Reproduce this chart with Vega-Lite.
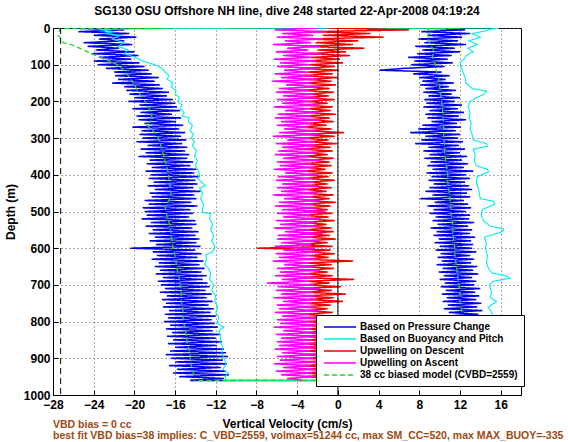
{
"$schema":"https://vega.github.io/schema/vega-lite/v6.json",
"autosize":{"type":"pad"},
"padding":{"left":3,"top":4,"right":0,"bottom":4},
"background":"#ffffff",
"datasets":{"lines":[
{"s":"P","b":"d","d":0,"v":-26.5},{"s":"P","b":"d","d":5,"v":-21.0},{"s":"P","b":"d","d":10,"v":-25.5},{"s":"P","b":"d","d":15,"v":-20.5},{"s":"P","b":"d","d":20,"v":-24.0},{"s":"P","b":"d","d":25,"v":-19.8},{"s":"P","b":"d","d":30,"v":-23.5},{"s":"P","b":"d","d":35,"v":-21.0},{"s":"P","b":"d","d":40,"v":-25.0},{"s":"P","b":"d","d":45,"v":-20.2},
{"s":"P","b":"d","d":50,"v":-24.6},{"s":"P","b":"d","d":55,"v":-21.5},{"s":"P","b":"d","d":60,"v":-23.8},{"s":"P","b":"d","d":65,"v":-20.0},{"s":"P","b":"d","d":70,"v":-24.2},{"s":"P","b":"d","d":75,"v":-19.6},{"s":"P","b":"d","d":80,"v":-23.5},{"s":"P","b":"d","d":85,"v":-20.3},{"s":"P","b":"d","d":90,"v":-24.0},{"s":"P","b":"d","d":95,"v":-19.5},
{"s":"P","b":"d","d":100,"v":-23.6},{"s":"P","b":"d","d":105,"v":-19.0},{"s":"P","b":"d","d":110,"v":-22.8},{"s":"P","b":"d","d":115,"v":-18.6},{"s":"P","b":"d","d":120,"v":-22.0},{"s":"P","b":"d","d":125,"v":-18.3},{"s":"P","b":"d","d":130,"v":-21.9},{"s":"P","b":"d","d":135,"v":-17.6},{"s":"P","b":"d","d":140,"v":-21.6},{"s":"P","b":"d","d":145,"v":-18.0},
{"s":"P","b":"d","d":150,"v":-22.2},{"s":"P","b":"d","d":155,"v":-17.5},{"s":"P","b":"d","d":160,"v":-21.0},{"s":"P","b":"d","d":165,"v":-17.2},{"s":"P","b":"d","d":170,"v":-20.8},{"s":"P","b":"d","d":175,"v":-16.6},{"s":"P","b":"d","d":180,"v":-20.5},{"s":"P","b":"d","d":185,"v":-16.8},{"s":"P","b":"d","d":190,"v":-20.0},{"s":"P","b":"d","d":195,"v":-16.2},
{"s":"P","b":"d","d":200,"v":-20.6},{"s":"P","b":"d","d":205,"v":-16.0},{"s":"P","b":"d","d":210,"v":-19.5},{"s":"P","b":"d","d":215,"v":-15.8},{"s":"P","b":"d","d":220,"v":-20.2},{"s":"P","b":"d","d":225,"v":-15.5},{"s":"P","b":"d","d":230,"v":-19.4},{"s":"P","b":"d","d":235,"v":-16.3},{"s":"P","b":"d","d":240,"v":-19.8},{"s":"P","b":"d","d":245,"v":-15.4},
{"s":"P","b":"d","d":250,"v":-19.6},{"s":"P","b":"d","d":255,"v":-15.9},{"s":"P","b":"d","d":260,"v":-19.0},{"s":"P","b":"d","d":265,"v":-15.2},{"s":"P","b":"d","d":270,"v":-20.2},{"s":"P","b":"d","d":275,"v":-15.6},{"s":"P","b":"d","d":280,"v":-19.3},{"s":"P","b":"d","d":285,"v":-15.0},{"s":"P","b":"d","d":290,"v":-19.5},{"s":"P","b":"d","d":295,"v":-15.4},
{"s":"P","b":"d","d":300,"v":-19.2},{"s":"P","b":"d","d":305,"v":-14.9},{"s":"P","b":"d","d":310,"v":-19.8},{"s":"P","b":"d","d":315,"v":-15.3},{"s":"P","b":"d","d":320,"v":-18.7},{"s":"P","b":"d","d":325,"v":-14.8},{"s":"P","b":"d","d":330,"v":-19.4},{"s":"P","b":"d","d":335,"v":-15.0},{"s":"P","b":"d","d":340,"v":-18.9},{"s":"P","b":"d","d":345,"v":-14.6},
{"s":"P","b":"d","d":350,"v":-19.6},{"s":"P","b":"d","d":355,"v":-14.8},{"s":"P","b":"d","d":360,"v":-18.5},{"s":"P","b":"d","d":365,"v":-14.2},{"s":"P","b":"d","d":370,"v":-18.8},{"s":"P","b":"d","d":375,"v":-14.5},{"s":"P","b":"d","d":380,"v":-18.3},{"s":"P","b":"d","d":385,"v":-13.9},{"s":"P","b":"d","d":390,"v":-18.9},{"s":"P","b":"d","d":395,"v":-14.1},
{"s":"P","b":"d","d":400,"v":-18.4},{"s":"P","b":"d","d":405,"v":-13.6},{"s":"P","b":"d","d":410,"v":-18.6},{"s":"P","b":"d","d":415,"v":-14.0},{"s":"P","b":"d","d":420,"v":-18.1},{"s":"P","b":"d","d":425,"v":-13.8},{"s":"P","b":"d","d":430,"v":-18.7},{"s":"P","b":"d","d":435,"v":-14.2},{"s":"P","b":"d","d":440,"v":-18.0},{"s":"P","b":"d","d":445,"v":-13.5},
{"s":"P","b":"d","d":450,"v":-18.5},{"s":"P","b":"d","d":455,"v":-14.1},{"s":"P","b":"d","d":460,"v":-18.3},{"s":"P","b":"d","d":465,"v":-13.9},{"s":"P","b":"d","d":470,"v":-19.0},{"s":"P","b":"d","d":475,"v":-14.4},{"s":"P","b":"d","d":480,"v":-18.6},{"s":"P","b":"d","d":485,"v":-13.8},{"s":"P","b":"d","d":490,"v":-19.2},{"s":"P","b":"d","d":495,"v":-14.5},
{"s":"P","b":"d","d":500,"v":-19.0},{"s":"P","b":"d","d":505,"v":-14.2},{"s":"P","b":"d","d":510,"v":-18.8},{"s":"P","b":"d","d":515,"v":-14.6},{"s":"P","b":"d","d":520,"v":-19.3},{"s":"P","b":"d","d":525,"v":-14.0},{"s":"P","b":"d","d":530,"v":-18.4},{"s":"P","b":"d","d":535,"v":-13.9},{"s":"P","b":"d","d":540,"v":-18.9},{"s":"P","b":"d","d":545,"v":-14.3},
{"s":"P","b":"d","d":550,"v":-18.2},{"s":"P","b":"d","d":555,"v":-13.7},{"s":"P","b":"d","d":560,"v":-18.6},{"s":"P","b":"d","d":565,"v":-14.0},{"s":"P","b":"d","d":570,"v":-18.0},{"s":"P","b":"d","d":575,"v":-13.6},{"s":"P","b":"d","d":580,"v":-18.5},{"s":"P","b":"d","d":585,"v":-13.9},{"s":"P","b":"d","d":590,"v":-17.9},{"s":"P","b":"d","d":595,"v":-13.5},
{"s":"P","b":"d","d":600,"v":-20.4},{"s":"P","b":"d","d":605,"v":-14.0},{"s":"P","b":"d","d":610,"v":-18.2},{"s":"P","b":"d","d":615,"v":-13.4},{"s":"P","b":"d","d":620,"v":-17.8},{"s":"P","b":"d","d":625,"v":-13.8},{"s":"P","b":"d","d":630,"v":-18.3},{"s":"P","b":"d","d":635,"v":-13.2},{"s":"P","b":"d","d":640,"v":-17.6},{"s":"P","b":"d","d":645,"v":-13.6},
{"s":"P","b":"d","d":650,"v":-18.0},{"s":"P","b":"d","d":655,"v":-13.1},{"s":"P","b":"d","d":660,"v":-17.5},{"s":"P","b":"d","d":665,"v":-13.4},{"s":"P","b":"d","d":670,"v":-17.9},{"s":"P","b":"d","d":675,"v":-12.9},{"s":"P","b":"d","d":680,"v":-17.2},{"s":"P","b":"d","d":685,"v":-13.3},{"s":"P","b":"d","d":690,"v":-17.7},{"s":"P","b":"d","d":695,"v":-12.8},
{"s":"P","b":"d","d":700,"v":-17.4},{"s":"P","b":"d","d":705,"v":-12.6},{"s":"P","b":"d","d":710,"v":-17.0},{"s":"P","b":"d","d":715,"v":-13.0},{"s":"P","b":"d","d":720,"v":-17.5},{"s":"P","b":"d","d":725,"v":-12.4},{"s":"P","b":"d","d":730,"v":-16.8},{"s":"P","b":"d","d":735,"v":-12.9},{"s":"P","b":"d","d":740,"v":-17.3},{"s":"P","b":"d","d":745,"v":-12.3},
{"s":"P","b":"d","d":750,"v":-16.9},{"s":"P","b":"d","d":755,"v":-12.7},{"s":"P","b":"d","d":760,"v":-17.2},{"s":"P","b":"d","d":765,"v":-12.2},{"s":"P","b":"d","d":770,"v":-16.6},{"s":"P","b":"d","d":775,"v":-12.5},{"s":"P","b":"d","d":780,"v":-17.0},{"s":"P","b":"d","d":785,"v":-12.0},{"s":"P","b":"d","d":790,"v":-16.7},{"s":"P","b":"d","d":795,"v":-12.4},
{"s":"P","b":"d","d":800,"v":-17.1},{"s":"P","b":"d","d":805,"v":-12.1},{"s":"P","b":"d","d":810,"v":-16.5},{"s":"P","b":"d","d":815,"v":-11.8},{"s":"P","b":"d","d":820,"v":-16.9},{"s":"P","b":"d","d":825,"v":-12.3},{"s":"P","b":"d","d":830,"v":-16.3},{"s":"P","b":"d","d":835,"v":-11.6},{"s":"P","b":"d","d":840,"v":-16.8},{"s":"P","b":"d","d":845,"v":-12.0},
{"s":"P","b":"d","d":850,"v":-16.2},{"s":"P","b":"d","d":855,"v":-11.4},{"s":"P","b":"d","d":860,"v":-16.7},{"s":"P","b":"d","d":865,"v":-11.9},{"s":"P","b":"d","d":870,"v":-16.0},{"s":"P","b":"d","d":875,"v":-11.2},{"s":"P","b":"d","d":880,"v":-16.5},{"s":"P","b":"d","d":885,"v":-11.0},{"s":"P","b":"d","d":890,"v":-16.9},{"s":"P","b":"d","d":895,"v":-10.8},
{"s":"P","b":"d","d":900,"v":-16.4},{"s":"P","b":"d","d":905,"v":-11.3},{"s":"P","b":"d","d":910,"v":-16.0},{"s":"P","b":"d","d":915,"v":-10.9},{"s":"P","b":"d","d":920,"v":-16.6},{"s":"P","b":"d","d":925,"v":-11.5},{"s":"P","b":"d","d":930,"v":-15.8},{"s":"P","b":"d","d":935,"v":-11.0},{"s":"P","b":"d","d":940,"v":-16.2},{"s":"P","b":"d","d":945,"v":-10.7},
{"s":"P","b":"d","d":950,"v":-15.6},{"s":"P","b":"d","d":955,"v":-11.2},{"s":"P","b":"d","d":960,"v":-14.5},
{"s":"P","b":"u","d":0,"v":9.0},{"s":"P","b":"u","d":5,"v":12.5},{"s":"P","b":"u","d":10,"v":8.2},{"s":"P","b":"u","d":15,"v":13.0},{"s":"P","b":"u","d":20,"v":8.8},{"s":"P","b":"u","d":25,"v":12.2},{"s":"P","b":"u","d":30,"v":7.9},{"s":"P","b":"u","d":35,"v":11.8},{"s":"P","b":"u","d":40,"v":8.5},{"s":"P","b":"u","d":45,"v":12.6},
{"s":"P","b":"u","d":50,"v":7.6},{"s":"P","b":"u","d":55,"v":11.5},{"s":"P","b":"u","d":60,"v":8.3},{"s":"P","b":"u","d":65,"v":12.0},{"s":"P","b":"u","d":70,"v":7.8},{"s":"P","b":"u","d":75,"v":11.2},{"s":"P","b":"u","d":80,"v":6.9},{"s":"P","b":"u","d":85,"v":10.8},{"s":"P","b":"u","d":90,"v":7.5},{"s":"P","b":"u","d":95,"v":11.3},
{"s":"P","b":"u","d":100,"v":7.2},{"s":"P","b":"u","d":105,"v":10.5},{"s":"P","b":"u","d":110,"v":6.5},{"s":"P","b":"u","d":115,"v":4.1},{"s":"P","b":"u","d":120,"v":10.2},{"s":"P","b":"u","d":125,"v":7.4},{"s":"P","b":"u","d":130,"v":11.0},{"s":"P","b":"u","d":135,"v":8.0},{"s":"P","b":"u","d":140,"v":10.6},{"s":"P","b":"u","d":145,"v":8.3},
{"s":"P","b":"u","d":150,"v":11.4},{"s":"P","b":"u","d":155,"v":8.1},{"s":"P","b":"u","d":160,"v":10.9},{"s":"P","b":"u","d":165,"v":8.6},{"s":"P","b":"u","d":170,"v":11.6},{"s":"P","b":"u","d":175,"v":8.4},{"s":"P","b":"u","d":180,"v":11.2},{"s":"P","b":"u","d":185,"v":8.9},{"s":"P","b":"u","d":190,"v":12.0},{"s":"P","b":"u","d":195,"v":8.5},
{"s":"P","b":"u","d":200,"v":11.5},{"s":"P","b":"u","d":205,"v":8.7},{"s":"P","b":"u","d":210,"v":12.2},{"s":"P","b":"u","d":215,"v":8.4},{"s":"P","b":"u","d":220,"v":11.8},{"s":"P","b":"u","d":225,"v":9.0},{"s":"P","b":"u","d":230,"v":12.4},{"s":"P","b":"u","d":235,"v":8.6},{"s":"P","b":"u","d":240,"v":11.9},{"s":"P","b":"u","d":245,"v":8.8},
{"s":"P","b":"u","d":250,"v":12.6},{"s":"P","b":"u","d":255,"v":9.2},{"s":"P","b":"u","d":260,"v":11.7},{"s":"P","b":"u","d":265,"v":8.3},{"s":"P","b":"u","d":270,"v":12.1},{"s":"P","b":"u","d":275,"v":7.9},{"s":"P","b":"u","d":280,"v":11.6},{"s":"P","b":"u","d":285,"v":7.1},{"s":"P","b":"u","d":290,"v":12.0},{"s":"P","b":"u","d":295,"v":8.6},
{"s":"P","b":"u","d":300,"v":11.8},{"s":"P","b":"u","d":305,"v":8.2},{"s":"P","b":"u","d":310,"v":12.3},{"s":"P","b":"u","d":315,"v":7.6},{"s":"P","b":"u","d":320,"v":11.9},{"s":"P","b":"u","d":325,"v":8.9},{"s":"P","b":"u","d":330,"v":12.5},{"s":"P","b":"u","d":335,"v":8.4},{"s":"P","b":"u","d":340,"v":12.0},{"s":"P","b":"u","d":345,"v":9.0},
{"s":"P","b":"u","d":350,"v":12.7},{"s":"P","b":"u","d":355,"v":8.5},{"s":"P","b":"u","d":360,"v":12.2},{"s":"P","b":"u","d":365,"v":9.1},{"s":"P","b":"u","d":370,"v":12.8},{"s":"P","b":"u","d":375,"v":8.8},{"s":"P","b":"u","d":380,"v":12.4},{"s":"P","b":"u","d":385,"v":9.3},{"s":"P","b":"u","d":390,"v":13.3},{"s":"P","b":"u","d":395,"v":8.7},
{"s":"P","b":"u","d":400,"v":12.6},{"s":"P","b":"u","d":405,"v":9.2},{"s":"P","b":"u","d":410,"v":13.0},{"s":"P","b":"u","d":415,"v":8.9},{"s":"P","b":"u","d":420,"v":12.5},{"s":"P","b":"u","d":425,"v":9.4},{"s":"P","b":"u","d":430,"v":12.9},{"s":"P","b":"u","d":435,"v":9.0},{"s":"P","b":"u","d":440,"v":13.2},{"s":"P","b":"u","d":445,"v":8.6},
{"s":"P","b":"u","d":450,"v":12.7},{"s":"P","b":"u","d":455,"v":9.3},{"s":"P","b":"u","d":460,"v":13.0},{"s":"P","b":"u","d":465,"v":8.1},{"s":"P","b":"u","d":470,"v":12.4},{"s":"P","b":"u","d":475,"v":9.5},{"s":"P","b":"u","d":480,"v":12.8},{"s":"P","b":"u","d":485,"v":8.8},{"s":"P","b":"u","d":490,"v":13.1},{"s":"P","b":"u","d":495,"v":9.4},
{"s":"P","b":"u","d":500,"v":12.6},{"s":"P","b":"u","d":505,"v":9.0},{"s":"P","b":"u","d":510,"v":13.0},{"s":"P","b":"u","d":515,"v":9.6},{"s":"P","b":"u","d":520,"v":12.9},{"s":"P","b":"u","d":525,"v":9.3},{"s":"P","b":"u","d":530,"v":13.4},{"s":"P","b":"u","d":535,"v":9.8},{"s":"P","b":"u","d":540,"v":12.8},{"s":"P","b":"u","d":545,"v":9.1},
{"s":"P","b":"u","d":550,"v":13.2},{"s":"P","b":"u","d":555,"v":9.7},{"s":"P","b":"u","d":560,"v":13.0},{"s":"P","b":"u","d":565,"v":9.4},{"s":"P","b":"u","d":570,"v":13.5},{"s":"P","b":"u","d":575,"v":9.9},{"s":"P","b":"u","d":580,"v":13.1},{"s":"P","b":"u","d":585,"v":9.5},{"s":"P","b":"u","d":590,"v":13.3},{"s":"P","b":"u","d":595,"v":10.0},
{"s":"P","b":"u","d":600,"v":13.2},{"s":"P","b":"u","d":605,"v":9.6},{"s":"P","b":"u","d":610,"v":13.6},{"s":"P","b":"u","d":615,"v":10.1},{"s":"P","b":"u","d":620,"v":13.0},{"s":"P","b":"u","d":625,"v":9.8},{"s":"P","b":"u","d":630,"v":13.4},{"s":"P","b":"u","d":635,"v":10.2},{"s":"P","b":"u","d":640,"v":13.1},{"s":"P","b":"u","d":645,"v":9.7},
{"s":"P","b":"u","d":650,"v":13.7},{"s":"P","b":"u","d":655,"v":10.3},{"s":"P","b":"u","d":660,"v":13.3},{"s":"P","b":"u","d":665,"v":9.9},{"s":"P","b":"u","d":670,"v":13.8},{"s":"P","b":"u","d":675,"v":10.4},{"s":"P","b":"u","d":680,"v":13.2},{"s":"P","b":"u","d":685,"v":10.0},{"s":"P","b":"u","d":690,"v":13.6},{"s":"P","b":"u","d":695,"v":10.5},
{"s":"P","b":"u","d":700,"v":13.4},{"s":"P","b":"u","d":705,"v":10.1},{"s":"P","b":"u","d":710,"v":14.0},{"s":"P","b":"u","d":715,"v":10.6},{"s":"P","b":"u","d":720,"v":13.5},{"s":"P","b":"u","d":725,"v":10.2},{"s":"P","b":"u","d":730,"v":13.9},{"s":"P","b":"u","d":735,"v":10.7},{"s":"P","b":"u","d":740,"v":13.6},{"s":"P","b":"u","d":745,"v":10.3},
{"s":"P","b":"u","d":750,"v":14.1},{"s":"P","b":"u","d":755,"v":10.8},{"s":"P","b":"u","d":760,"v":13.7},{"s":"P","b":"u","d":765,"v":10.4},{"s":"P","b":"u","d":770,"v":14.2},{"s":"P","b":"u","d":775,"v":10.9},{"s":"P","b":"u","d":780,"v":13.8},{"s":"P","b":"u","d":785,"v":10.5},{"s":"P","b":"u","d":790,"v":14.0},{"s":"P","b":"u","d":795,"v":11.0},
{"s":"P","b":"u","d":800,"v":13.9},{"s":"P","b":"u","d":805,"v":10.6},{"s":"P","b":"u","d":810,"v":14.3},{"s":"P","b":"u","d":815,"v":10.8},{"s":"P","b":"u","d":820,"v":13.7},{"s":"P","b":"u","d":825,"v":11.1},{"s":"P","b":"u","d":830,"v":14.2},{"s":"P","b":"u","d":835,"v":10.7},{"s":"P","b":"u","d":840,"v":14.4},{"s":"P","b":"u","d":845,"v":11.0},
{"s":"P","b":"u","d":850,"v":13.9},{"s":"P","b":"u","d":855,"v":10.9},{"s":"P","b":"u","d":860,"v":14.5},{"s":"P","b":"u","d":865,"v":11.2},{"s":"P","b":"u","d":870,"v":14.0},{"s":"P","b":"u","d":875,"v":10.8},{"s":"P","b":"u","d":880,"v":14.3},{"s":"P","b":"u","d":885,"v":11.3},{"s":"P","b":"u","d":890,"v":14.1},{"s":"P","b":"u","d":895,"v":11.0},
{"s":"P","b":"u","d":900,"v":14.6},{"s":"P","b":"u","d":905,"v":11.4},{"s":"P","b":"u","d":910,"v":14.2},{"s":"P","b":"u","d":915,"v":11.1},{"s":"P","b":"u","d":920,"v":14.4},{"s":"P","b":"u","d":925,"v":11.5},{"s":"P","b":"u","d":930,"v":14.0},{"s":"P","b":"u","d":935,"v":11.2},{"s":"P","b":"u","d":940,"v":14.5},{"s":"P","b":"u","d":945,"v":11.6},
{"s":"P","b":"u","d":950,"v":14.1},{"s":"P","b":"u","d":955,"v":11.8},{"s":"P","b":"u","d":960,"v":12.5},{"s":"P","b":"u","d":960.5,"v":-14.5},
{"s":"B","b":"d","d":0,"v":15.8},{"s":"B","b":"d","d":1,"v":-14.4},{"s":"B","b":"d","d":4,"v":-23.5},{"s":"B","b":"d","d":10,"v":-22.0},{"s":"B","b":"d","d":15,"v":-23.0},{"s":"B","b":"d","d":20,"v":-21.4},{"s":"B","b":"d","d":30,"v":-22.2},{"s":"B","b":"d","d":40,"v":-21.0},{"s":"B","b":"d","d":50,"v":-21.6},{"s":"B","b":"d","d":60,"v":-20.6},
{"s":"B","b":"d","d":70,"v":-21.0},{"s":"B","b":"d","d":80,"v":-19.9},{"s":"B","b":"d","d":90,"v":-19.2},{"s":"B","b":"d","d":95,"v":-18.6},{"s":"B","b":"d","d":100,"v":-18.0},{"s":"B","b":"d","d":105,"v":-17.6},{"s":"B","b":"d","d":110,"v":-17.3},{"s":"B","b":"d","d":120,"v":-17.0},{"s":"B","b":"d","d":130,"v":-16.6},{"s":"B","b":"d","d":140,"v":-16.8},
{"s":"B","b":"d","d":150,"v":-16.2},{"s":"B","b":"d","d":160,"v":-16.4},{"s":"B","b":"d","d":170,"v":-15.9},{"s":"B","b":"d","d":180,"v":-16.0},{"s":"B","b":"d","d":190,"v":-15.6},{"s":"B","b":"d","d":200,"v":-15.7},{"s":"B","b":"d","d":210,"v":-15.3},{"s":"B","b":"d","d":220,"v":-15.5},{"s":"B","b":"d","d":230,"v":-15.1},{"s":"B","b":"d","d":240,"v":-15.3},
{"s":"B","b":"d","d":245,"v":-14.6},{"s":"B","b":"d","d":255,"v":-14.7},{"s":"B","b":"d","d":265,"v":-14.3},{"s":"B","b":"d","d":280,"v":-14.5},{"s":"B","b":"d","d":290,"v":-14.2},{"s":"B","b":"d","d":300,"v":-14.4},{"s":"B","b":"d","d":310,"v":-14.1},{"s":"B","b":"d","d":320,"v":-14.3},{"s":"B","b":"d","d":335,"v":-13.9},{"s":"B","b":"d","d":350,"v":-14.1},
{"s":"B","b":"d","d":360,"v":-13.8},{"s":"B","b":"d","d":375,"v":-14.0},{"s":"B","b":"d","d":390,"v":-13.7},{"s":"B","b":"d","d":400,"v":-13.6},{"s":"B","b":"d","d":410,"v":-13.8},{"s":"B","b":"d","d":420,"v":-13.4},{"s":"B","b":"d","d":430,"v":-13.0},{"s":"B","b":"d","d":435,"v":-13.6},{"s":"B","b":"d","d":450,"v":-13.3},{"s":"B","b":"d","d":465,"v":-13.5},
{"s":"B","b":"d","d":480,"v":-13.2},{"s":"B","b":"d","d":495,"v":-13.3},{"s":"B","b":"d","d":503,"v":-13.3},{"s":"B","b":"d","d":506,"v":-12.5},{"s":"B","b":"d","d":520,"v":-12.6},{"s":"B","b":"d","d":535,"v":-12.3},{"s":"B","b":"d","d":550,"v":-12.5},{"s":"B","b":"d","d":565,"v":-12.2},{"s":"B","b":"d","d":580,"v":-12.4},{"s":"B","b":"d","d":595,"v":-12.1},
{"s":"B","b":"d","d":610,"v":-12.3},{"s":"B","b":"d","d":618,"v":-13.0},{"s":"B","b":"d","d":630,"v":-12.9},{"s":"B","b":"d","d":645,"v":-13.1},{"s":"B","b":"d","d":655,"v":-12.7},{"s":"B","b":"d","d":670,"v":-12.5},{"s":"B","b":"d","d":685,"v":-12.6},{"s":"B","b":"d","d":700,"v":-12.2},{"s":"B","b":"d","d":715,"v":-12.4},{"s":"B","b":"d","d":730,"v":-12.0},
{"s":"B","b":"d","d":745,"v":-12.1},{"s":"B","b":"d","d":760,"v":-11.8},{"s":"B","b":"d","d":775,"v":-12.0},{"s":"B","b":"d","d":790,"v":-11.7},{"s":"B","b":"d","d":805,"v":-11.9},{"s":"B","b":"d","d":815,"v":-11.2},{"s":"B","b":"d","d":825,"v":-11.7},{"s":"B","b":"d","d":840,"v":-11.5},{"s":"B","b":"d","d":855,"v":-11.6},{"s":"B","b":"d","d":870,"v":-11.3},
{"s":"B","b":"d","d":885,"v":-11.4},{"s":"B","b":"d","d":900,"v":-11.2},{"s":"B","b":"d","d":915,"v":-11.0},{"s":"B","b":"d","d":930,"v":-11.3},{"s":"B","b":"d","d":940,"v":-10.8},{"s":"B","b":"d","d":950,"v":-11.1},{"s":"B","b":"d","d":958,"v":-11.0},
{"s":"B","b":"u","d":1,"v":15.8},{"s":"B","b":"u","d":3,"v":15.0},{"s":"B","b":"u","d":8,"v":14.5},{"s":"B","b":"u","d":15,"v":13.2},{"s":"B","b":"u","d":25,"v":14.0},{"s":"B","b":"u","d":35,"v":12.9},{"s":"B","b":"u","d":45,"v":13.7},{"s":"B","b":"u","d":55,"v":12.8},{"s":"B","b":"u","d":65,"v":13.3},{"s":"B","b":"u","d":75,"v":12.6},
{"s":"B","b":"u","d":85,"v":12.4},{"s":"B","b":"u","d":95,"v":12.0},{"s":"B","b":"u","d":105,"v":12.1},{"s":"B","b":"u","d":120,"v":12.3},{"s":"B","b":"u","d":135,"v":12.5},{"s":"B","b":"u","d":150,"v":12.6},{"s":"B","b":"u","d":165,"v":13.2},{"s":"B","b":"u","d":172,"v":14.6},{"s":"B","b":"u","d":180,"v":14.4},{"s":"B","b":"u","d":190,"v":13.6},
{"s":"B","b":"u","d":200,"v":13.0},{"s":"B","b":"u","d":215,"v":12.8},{"s":"B","b":"u","d":230,"v":13.0},{"s":"B","b":"u","d":245,"v":12.9},{"s":"B","b":"u","d":260,"v":13.1},{"s":"B","b":"u","d":275,"v":13.0},{"s":"B","b":"u","d":290,"v":13.2},{"s":"B","b":"u","d":305,"v":13.3},{"s":"B","b":"u","d":315,"v":14.6},{"s":"B","b":"u","d":322,"v":14.7},
{"s":"B","b":"u","d":330,"v":13.3},{"s":"B","b":"u","d":345,"v":13.5},{"s":"B","b":"u","d":360,"v":13.4},{"s":"B","b":"u","d":375,"v":13.6},{"s":"B","b":"u","d":385,"v":14.7},{"s":"B","b":"u","d":392,"v":14.8},{"s":"B","b":"u","d":405,"v":13.7},{"s":"B","b":"u","d":420,"v":13.6},{"s":"B","b":"u","d":435,"v":13.8},{"s":"B","b":"u","d":450,"v":13.9},
{"s":"B","b":"u","d":465,"v":14.0},{"s":"B","b":"u","d":472,"v":15.3},{"s":"B","b":"u","d":480,"v":15.4},{"s":"B","b":"u","d":495,"v":14.2},{"s":"B","b":"u","d":510,"v":14.1},{"s":"B","b":"u","d":525,"v":14.3},{"s":"B","b":"u","d":540,"v":15.0},{"s":"B","b":"u","d":548,"v":16.3},{"s":"B","b":"u","d":555,"v":16.2},{"s":"B","b":"u","d":570,"v":14.4},
{"s":"B","b":"u","d":585,"v":14.6},{"s":"B","b":"u","d":600,"v":14.5},{"s":"B","b":"u","d":620,"v":14.7},{"s":"B","b":"u","d":640,"v":14.6},{"s":"B","b":"u","d":655,"v":14.8},{"s":"B","b":"u","d":668,"v":15.2},{"s":"B","b":"u","d":675,"v":16.5},{"s":"B","b":"u","d":682,"v":16.9},{"s":"B","b":"u","d":690,"v":15.3},{"s":"B","b":"u","d":700,"v":14.9},
{"s":"B","b":"u","d":720,"v":15.1},{"s":"B","b":"u","d":735,"v":15.0},{"s":"B","b":"u","d":745,"v":15.6},{"s":"B","b":"u","d":760,"v":14.8},{"s":"B","b":"u","d":780,"v":15.2},{"s":"B","b":"u","d":800,"v":14.6},{"s":"B","b":"u","d":820,"v":15.0},{"s":"B","b":"u","d":840,"v":14.4},{"s":"B","b":"u","d":860,"v":14.8},{"s":"B","b":"u","d":880,"v":14.2},
{"s":"B","b":"u","d":900,"v":14.6},{"s":"B","b":"u","d":920,"v":14.0},{"s":"B","b":"u","d":940,"v":14.5},{"s":"B","b":"u","d":960,"v":13.5},{"s":"B","b":"u","d":960.5,"v":-11.0},
{"s":"D","b":"d","d":0,"v":-1.0},{"s":"D","b":"d","d":5,"v":7.0},{"s":"D","b":"d","d":10,"v":-2.5},{"s":"D","b":"d","d":15,"v":3.2},{"s":"D","b":"d","d":20,"v":-1.5},{"s":"D","b":"d","d":25,"v":4.5},{"s":"D","b":"d","d":30,"v":-3.0},{"s":"D","b":"d","d":35,"v":2.0},{"s":"D","b":"d","d":40,"v":-2.2},{"s":"D","b":"d","d":45,"v":1.5},
{"s":"D","b":"d","d":50,"v":-3.5},{"s":"D","b":"d","d":55,"v":2.6},{"s":"D","b":"d","d":60,"v":-2.0},{"s":"D","b":"d","d":65,"v":0.8},{"s":"D","b":"d","d":70,"v":-3.2},{"s":"D","b":"d","d":75,"v":1.2},{"s":"D","b":"d","d":80,"v":-2.6},{"s":"D","b":"d","d":85,"v":0.2},{"s":"D","b":"d","d":90,"v":-3.4},{"s":"D","b":"d","d":95,"v":0.5},
{"s":"D","b":"d","d":100,"v":-2.8},{"s":"D","b":"d","d":105,"v":-0.3},{"s":"D","b":"d","d":110,"v":-3.6},{"s":"D","b":"d","d":115,"v":0.1},{"s":"D","b":"d","d":120,"v":-3.0},{"s":"D","b":"d","d":125,"v":-0.5},{"s":"D","b":"d","d":130,"v":-3.8},{"s":"D","b":"d","d":135,"v":0.0},{"s":"D","b":"d","d":140,"v":-2.9},{"s":"D","b":"d","d":145,"v":-0.6},
{"s":"D","b":"d","d":150,"v":-3.5},{"s":"D","b":"d","d":155,"v":-0.2},{"s":"D","b":"d","d":160,"v":-3.1},{"s":"D","b":"d","d":165,"v":-0.8},{"s":"D","b":"d","d":170,"v":-3.7},{"s":"D","b":"d","d":175,"v":-0.4},{"s":"D","b":"d","d":180,"v":-2.8},{"s":"D","b":"d","d":185,"v":-0.9},{"s":"D","b":"d","d":190,"v":-3.4},{"s":"D","b":"d","d":195,"v":-0.3},
{"s":"D","b":"d","d":200,"v":-3.0},{"s":"D","b":"d","d":205,"v":-1.0},{"s":"D","b":"d","d":210,"v":-3.6},{"s":"D","b":"d","d":215,"v":-0.5},{"s":"D","b":"d","d":220,"v":-2.9},{"s":"D","b":"d","d":225,"v":-0.7},{"s":"D","b":"d","d":230,"v":-3.3},{"s":"D","b":"d","d":235,"v":-0.2},{"s":"D","b":"d","d":240,"v":-3.5},{"s":"D","b":"d","d":245,"v":-0.8},
{"s":"D","b":"d","d":250,"v":-2.7},{"s":"D","b":"d","d":255,"v":-0.4},{"s":"D","b":"d","d":260,"v":-3.2},{"s":"D","b":"d","d":265,"v":-1.1},{"s":"D","b":"d","d":270,"v":-3.8},{"s":"D","b":"d","d":275,"v":-0.6},{"s":"D","b":"d","d":280,"v":-3.0},{"s":"D","b":"d","d":285,"v":0.6},{"s":"D","b":"d","d":290,"v":-3.4},{"s":"D","b":"d","d":295,"v":-0.3},
{"s":"D","b":"d","d":300,"v":-3.6},{"s":"D","b":"d","d":305,"v":-0.9},{"s":"D","b":"d","d":310,"v":-2.8},{"s":"D","b":"d","d":315,"v":-0.1},{"s":"D","b":"d","d":320,"v":-3.3},{"s":"D","b":"d","d":325,"v":-0.7},{"s":"D","b":"d","d":330,"v":-3.9},{"s":"D","b":"d","d":335,"v":-0.5},{"s":"D","b":"d","d":340,"v":-3.1},{"s":"D","b":"d","d":345,"v":-1.0},
{"s":"D","b":"d","d":350,"v":-3.5},{"s":"D","b":"d","d":355,"v":-0.4},{"s":"D","b":"d","d":360,"v":-2.9},{"s":"D","b":"d","d":365,"v":-0.8},{"s":"D","b":"d","d":370,"v":-3.7},{"s":"D","b":"d","d":375,"v":-0.6},{"s":"D","b":"d","d":380,"v":-3.0},{"s":"D","b":"d","d":385,"v":-1.2},{"s":"D","b":"d","d":390,"v":-3.4},{"s":"D","b":"d","d":395,"v":-0.5},
{"s":"D","b":"d","d":400,"v":-3.6},{"s":"D","b":"d","d":405,"v":-0.9},{"s":"D","b":"d","d":410,"v":-3.2},{"s":"D","b":"d","d":415,"v":-0.3},{"s":"D","b":"d","d":420,"v":-2.8},{"s":"D","b":"d","d":425,"v":-1.0},{"s":"D","b":"d","d":430,"v":-3.5},{"s":"D","b":"d","d":435,"v":-0.6},{"s":"D","b":"d","d":440,"v":-3.1},{"s":"D","b":"d","d":445,"v":-1.1},
{"s":"D","b":"d","d":450,"v":-3.7},{"s":"D","b":"d","d":455,"v":-0.4},{"s":"D","b":"d","d":460,"v":-2.9},{"s":"D","b":"d","d":465,"v":-0.8},{"s":"D","b":"d","d":470,"v":-3.3},{"s":"D","b":"d","d":475,"v":-0.2},{"s":"D","b":"d","d":480,"v":-3.6},{"s":"D","b":"d","d":485,"v":-0.7},{"s":"D","b":"d","d":490,"v":-3.0},{"s":"D","b":"d","d":495,"v":-1.0},
{"s":"D","b":"d","d":500,"v":-3.4},{"s":"D","b":"d","d":505,"v":-0.5},{"s":"D","b":"d","d":510,"v":-3.8},{"s":"D","b":"d","d":515,"v":-0.9},{"s":"D","b":"d","d":520,"v":-3.1},{"s":"D","b":"d","d":525,"v":-0.3},{"s":"D","b":"d","d":530,"v":-3.5},{"s":"D","b":"d","d":535,"v":-1.1},{"s":"D","b":"d","d":540,"v":-2.9},{"s":"D","b":"d","d":545,"v":-0.6},
{"s":"D","b":"d","d":550,"v":-3.3},{"s":"D","b":"d","d":555,"v":-0.4},{"s":"D","b":"d","d":560,"v":-3.7},{"s":"D","b":"d","d":565,"v":-0.8},{"s":"D","b":"d","d":570,"v":-3.0},{"s":"D","b":"d","d":575,"v":-0.2},{"s":"D","b":"d","d":580,"v":-3.4},{"s":"D","b":"d","d":585,"v":-1.0},{"s":"D","b":"d","d":590,"v":-3.6},{"s":"D","b":"d","d":595,"v":-0.5},
{"s":"D","b":"d","d":600,"v":-8.0},{"s":"D","b":"d","d":605,"v":-0.7},{"s":"D","b":"d","d":610,"v":-3.2},{"s":"D","b":"d","d":615,"v":-0.3},{"s":"D","b":"d","d":620,"v":-2.8},{"s":"D","b":"d","d":625,"v":-0.9},{"s":"D","b":"d","d":630,"v":-3.5},{"s":"D","b":"d","d":635,"v":1.5},{"s":"D","b":"d","d":640,"v":-3.1},{"s":"D","b":"d","d":645,"v":-0.6},
{"s":"D","b":"d","d":650,"v":-3.7},{"s":"D","b":"d","d":655,"v":-0.4},{"s":"D","b":"d","d":660,"v":-2.9},{"s":"D","b":"d","d":665,"v":-1.0},{"s":"D","b":"d","d":670,"v":-3.3},{"s":"D","b":"d","d":675,"v":-0.5},{"s":"D","b":"d","d":680,"v":-3.6},{"s":"D","b":"d","d":685,"v":1.6},{"s":"D","b":"d","d":690,"v":-3.0},{"s":"D","b":"d","d":695,"v":-0.8},
{"s":"D","b":"d","d":700,"v":-3.4},{"s":"D","b":"d","d":705,"v":0.3},{"s":"D","b":"d","d":710,"v":-3.8},{"s":"D","b":"d","d":715,"v":-0.6},{"s":"D","b":"d","d":720,"v":-3.1},{"s":"D","b":"d","d":725,"v":0.8},{"s":"D","b":"d","d":730,"v":-3.5},{"s":"D","b":"d","d":735,"v":-0.4},{"s":"D","b":"d","d":740,"v":-2.9},{"s":"D","b":"d","d":745,"v":0.5},
{"s":"D","b":"d","d":750,"v":-3.3},{"s":"D","b":"d","d":755,"v":-0.7},{"s":"D","b":"d","d":760,"v":-3.6},{"s":"D","b":"d","d":765,"v":-1.0},{"s":"D","b":"d","d":770,"v":-3.0},{"s":"D","b":"d","d":775,"v":-0.5},{"s":"D","b":"d","d":780,"v":-3.4},{"s":"D","b":"d","d":785,"v":-0.8},{"s":"D","b":"d","d":790,"v":-3.7},{"s":"D","b":"d","d":795,"v":-0.3},
{"s":"D","b":"d","d":800,"v":-3.1},{"s":"D","b":"d","d":805,"v":-0.9},{"s":"D","b":"d","d":810,"v":-3.5},{"s":"D","b":"d","d":815,"v":-0.6},{"s":"D","b":"d","d":820,"v":-2.9},{"s":"D","b":"d","d":825,"v":-1.0},{"s":"D","b":"d","d":830,"v":-3.3},{"s":"D","b":"d","d":835,"v":-0.4},{"s":"D","b":"d","d":840,"v":-3.6},{"s":"D","b":"d","d":845,"v":-0.8},
{"s":"D","b":"d","d":850,"v":-3.0},{"s":"D","b":"d","d":855,"v":-0.5},{"s":"D","b":"d","d":860,"v":-3.4},{"s":"D","b":"d","d":865,"v":-0.9},{"s":"D","b":"d","d":870,"v":-3.8},{"s":"D","b":"d","d":875,"v":-0.6},{"s":"D","b":"d","d":880,"v":-3.1},{"s":"D","b":"d","d":885,"v":-0.3},{"s":"D","b":"d","d":890,"v":-3.5},{"s":"D","b":"d","d":895,"v":-1.0},
{"s":"D","b":"d","d":900,"v":-2.9},{"s":"D","b":"d","d":905,"v":-0.7},{"s":"D","b":"d","d":910,"v":-3.3},{"s":"D","b":"d","d":915,"v":-0.4},{"s":"D","b":"d","d":920,"v":-3.6},{"s":"D","b":"d","d":925,"v":-0.8},{"s":"D","b":"d","d":930,"v":-3.0},{"s":"D","b":"d","d":935,"v":-0.5},{"s":"D","b":"d","d":940,"v":-3.4},{"s":"D","b":"d","d":945,"v":-0.9},
{"s":"D","b":"d","d":950,"v":-3.2},{"s":"D","b":"d","d":955,"v":-0.6},{"s":"D","b":"d","d":960,"v":-2.0},
{"s":"A","b":"d","d":0,"v":-2.0},{"s":"A","b":"d","d":5,"v":-6.2},{"s":"A","b":"d","d":10,"v":-1.2},{"s":"A","b":"d","d":15,"v":-5.5},{"s":"A","b":"d","d":20,"v":-2.4},{"s":"A","b":"d","d":25,"v":-6.0},{"s":"A","b":"d","d":30,"v":-1.5},{"s":"A","b":"d","d":35,"v":-5.2},{"s":"A","b":"d","d":40,"v":-2.6},{"s":"A","b":"d","d":45,"v":-6.4},
{"s":"A","b":"d","d":50,"v":-1.8},{"s":"A","b":"d","d":55,"v":-5.0},{"s":"A","b":"d","d":60,"v":-2.9},{"s":"A","b":"d","d":65,"v":-6.1},{"s":"A","b":"d","d":70,"v":-1.6},{"s":"A","b":"d","d":75,"v":-5.4},{"s":"A","b":"d","d":80,"v":-2.5},{"s":"A","b":"d","d":85,"v":-6.3},{"s":"A","b":"d","d":90,"v":-2.1},{"s":"A","b":"d","d":95,"v":-5.7},
{"s":"A","b":"d","d":100,"v":-2.8},{"s":"A","b":"d","d":105,"v":-6.0},{"s":"A","b":"d","d":110,"v":-2.2},{"s":"A","b":"d","d":115,"v":-5.3},{"s":"A","b":"d","d":120,"v":-3.0},{"s":"A","b":"d","d":125,"v":-6.2},{"s":"A","b":"d","d":130,"v":-2.4},{"s":"A","b":"d","d":135,"v":-5.6},{"s":"A","b":"d","d":140,"v":-2.0},{"s":"A","b":"d","d":145,"v":-6.5},
{"s":"A","b":"d","d":150,"v":-2.6},{"s":"A","b":"d","d":155,"v":-5.1},{"s":"A","b":"d","d":160,"v":-1.9},{"s":"A","b":"d","d":165,"v":-5.8},{"s":"A","b":"d","d":170,"v":-2.7},{"s":"A","b":"d","d":175,"v":-6.1},{"s":"A","b":"d","d":180,"v":-2.3},{"s":"A","b":"d","d":185,"v":-5.4},{"s":"A","b":"d","d":190,"v":-1.8},{"s":"A","b":"d","d":195,"v":-6.0},
{"s":"A","b":"d","d":200,"v":-2.5},{"s":"A","b":"d","d":205,"v":-5.5},{"s":"A","b":"d","d":210,"v":-2.1},{"s":"A","b":"d","d":215,"v":-6.3},{"s":"A","b":"d","d":220,"v":-2.8},{"s":"A","b":"d","d":225,"v":-5.2},{"s":"A","b":"d","d":230,"v":-2.0},{"s":"A","b":"d","d":235,"v":-5.9},{"s":"A","b":"d","d":240,"v":-2.6},{"s":"A","b":"d","d":245,"v":-6.2},
{"s":"A","b":"d","d":250,"v":-1.7},{"s":"A","b":"d","d":255,"v":-5.6},{"s":"A","b":"d","d":260,"v":-2.4},{"s":"A","b":"d","d":265,"v":-6.0},{"s":"A","b":"d","d":270,"v":-2.9},{"s":"A","b":"d","d":275,"v":-5.3},{"s":"A","b":"d","d":280,"v":-2.2},{"s":"A","b":"d","d":285,"v":-5.8},{"s":"A","b":"d","d":290,"v":-1.9},{"s":"A","b":"d","d":295,"v":-6.4},
{"s":"A","b":"d","d":300,"v":-2.7},{"s":"A","b":"d","d":305,"v":-5.0},{"s":"A","b":"d","d":310,"v":-2.3},{"s":"A","b":"d","d":315,"v":-6.1},{"s":"A","b":"d","d":320,"v":-2.0},{"s":"A","b":"d","d":325,"v":-5.5},{"s":"A","b":"d","d":330,"v":-2.6},{"s":"A","b":"d","d":335,"v":-5.9},{"s":"A","b":"d","d":340,"v":-2.1},{"s":"A","b":"d","d":345,"v":-6.2},
{"s":"A","b":"d","d":350,"v":-2.8},{"s":"A","b":"d","d":355,"v":-5.4},{"s":"A","b":"d","d":360,"v":-1.8},{"s":"A","b":"d","d":365,"v":-6.0},{"s":"A","b":"d","d":370,"v":-2.5},{"s":"A","b":"d","d":375,"v":-5.7},{"s":"A","b":"d","d":380,"v":-2.2},{"s":"A","b":"d","d":385,"v":-6.3},{"s":"A","b":"d","d":390,"v":-2.9},{"s":"A","b":"d","d":395,"v":-5.2},
{"s":"A","b":"d","d":400,"v":-2.0},{"s":"A","b":"d","d":405,"v":-5.9},{"s":"A","b":"d","d":410,"v":-2.6},{"s":"A","b":"d","d":415,"v":-6.1},{"s":"A","b":"d","d":420,"v":-2.3},{"s":"A","b":"d","d":425,"v":-5.5},{"s":"A","b":"d","d":430,"v":-1.9},{"s":"A","b":"d","d":435,"v":-6.0},{"s":"A","b":"d","d":440,"v":-2.7},{"s":"A","b":"d","d":445,"v":-5.6},
{"s":"A","b":"d","d":450,"v":-2.1},{"s":"A","b":"d","d":455,"v":-6.4},{"s":"A","b":"d","d":460,"v":-2.5},{"s":"A","b":"d","d":465,"v":-5.3},{"s":"A","b":"d","d":470,"v":-1.7},{"s":"A","b":"d","d":475,"v":-5.8},{"s":"A","b":"d","d":480,"v":-2.4},{"s":"A","b":"d","d":485,"v":-6.2},{"s":"A","b":"d","d":490,"v":-2.0},{"s":"A","b":"d","d":495,"v":-5.5},
{"s":"A","b":"d","d":500,"v":-1.2},{"s":"A","b":"d","d":505,"v":-6.0},{"s":"A","b":"d","d":510,"v":-2.6},{"s":"A","b":"d","d":515,"v":-5.4},{"s":"A","b":"d","d":520,"v":-1.8},{"s":"A","b":"d","d":525,"v":-6.1},{"s":"A","b":"d","d":530,"v":-2.3},{"s":"A","b":"d","d":535,"v":-5.7},{"s":"A","b":"d","d":540,"v":-2.0},{"s":"A","b":"d","d":545,"v":-6.3},
{"s":"A","b":"d","d":550,"v":-2.7},{"s":"A","b":"d","d":555,"v":-5.2},{"s":"A","b":"d","d":560,"v":-1.5},{"s":"A","b":"d","d":565,"v":-5.9},{"s":"A","b":"d","d":570,"v":-2.4},{"s":"A","b":"d","d":575,"v":-6.0},{"s":"A","b":"d","d":580,"v":-1.9},{"s":"A","b":"d","d":585,"v":-5.6},{"s":"A","b":"d","d":590,"v":-2.6},{"s":"A","b":"d","d":595,"v":-6.2},
{"s":"A","b":"d","d":600,"v":-2.2},{"s":"A","b":"d","d":605,"v":-5.4},{"s":"A","b":"d","d":610,"v":-1.8},{"s":"A","b":"d","d":615,"v":-6.1},{"s":"A","b":"d","d":620,"v":-2.5},{"s":"A","b":"d","d":625,"v":-5.8},{"s":"A","b":"d","d":630,"v":-2.0},{"s":"A","b":"d","d":635,"v":-6.4},{"s":"A","b":"d","d":640,"v":-2.8},{"s":"A","b":"d","d":645,"v":-5.3},
{"s":"A","b":"d","d":650,"v":-2.3},{"s":"A","b":"d","d":655,"v":-6.0},{"s":"A","b":"d","d":660,"v":-1.9},{"s":"A","b":"d","d":665,"v":-5.7},{"s":"A","b":"d","d":670,"v":-2.6},{"s":"A","b":"d","d":675,"v":-6.2},{"s":"A","b":"d","d":680,"v":-2.1},{"s":"A","b":"d","d":685,"v":-5.5},{"s":"A","b":"d","d":690,"v":-2.7},{"s":"A","b":"d","d":695,"v":-7.0},
{"s":"A","b":"d","d":700,"v":-2.4},{"s":"A","b":"d","d":705,"v":-5.9},{"s":"A","b":"d","d":710,"v":-1.8},{"s":"A","b":"d","d":715,"v":-6.1},{"s":"A","b":"d","d":720,"v":-2.5},{"s":"A","b":"d","d":725,"v":-5.6},{"s":"A","b":"d","d":730,"v":-2.2},{"s":"A","b":"d","d":735,"v":-6.3},{"s":"A","b":"d","d":740,"v":-2.0},{"s":"A","b":"d","d":745,"v":-5.4},
{"s":"A","b":"d","d":750,"v":-2.6},{"s":"A","b":"d","d":755,"v":-6.0},{"s":"A","b":"d","d":760,"v":-2.3},{"s":"A","b":"d","d":765,"v":-5.8},{"s":"A","b":"d","d":770,"v":-1.9},{"s":"A","b":"d","d":775,"v":-6.2},{"s":"A","b":"d","d":780,"v":-2.7},{"s":"A","b":"d","d":785,"v":-5.5},{"s":"A","b":"d","d":790,"v":-2.1},{"s":"A","b":"d","d":795,"v":-6.0},
{"s":"A","b":"d","d":800,"v":-2.4},{"s":"A","b":"d","d":805,"v":-5.7},{"s":"A","b":"d","d":810,"v":-1.8},{"s":"A","b":"d","d":815,"v":-6.3},{"s":"A","b":"d","d":820,"v":-2.6},{"s":"A","b":"d","d":825,"v":-5.4},{"s":"A","b":"d","d":830,"v":-2.2},{"s":"A","b":"d","d":835,"v":-6.1},{"s":"A","b":"d","d":840,"v":-2.0},{"s":"A","b":"d","d":845,"v":-5.6},
{"s":"A","b":"d","d":850,"v":-2.5},{"s":"A","b":"d","d":855,"v":-6.0},{"s":"A","b":"d","d":860,"v":-2.3},{"s":"A","b":"d","d":865,"v":-5.8},{"s":"A","b":"d","d":870,"v":-1.9},{"s":"A","b":"d","d":875,"v":-6.2},{"s":"A","b":"d","d":880,"v":-2.7},{"s":"A","b":"d","d":885,"v":-5.5},{"s":"A","b":"d","d":890,"v":-2.1},{"s":"A","b":"d","d":895,"v":-6.0},
{"s":"A","b":"d","d":900,"v":-2.4},{"s":"A","b":"d","d":905,"v":-5.7},{"s":"A","b":"d","d":910,"v":-2.0},{"s":"A","b":"d","d":915,"v":-6.3},{"s":"A","b":"d","d":920,"v":-2.6},{"s":"A","b":"d","d":925,"v":-5.4},{"s":"A","b":"d","d":930,"v":-2.2},{"s":"A","b":"d","d":935,"v":-6.1},{"s":"A","b":"d","d":940,"v":-2.5},{"s":"A","b":"d","d":945,"v":-5.6},
{"s":"A","b":"d","d":950,"v":-2.3},{"s":"A","b":"d","d":955,"v":-5.0},{"s":"A","b":"d","d":960,"v":-3.5},
{"s":"G","b":"d","d":0,"v":-8.3},{"s":"G","b":"d","d":1.5,"v":-27.3},{"s":"G","b":"d","d":10,"v":-27.4},{"s":"G","b":"d","d":20,"v":-27.5},{"s":"G","b":"d","d":30,"v":-27.2},{"s":"G","b":"d","d":40,"v":-27.0},{"s":"G","b":"d","d":45,"v":-26.2},{"s":"G","b":"d","d":55,"v":-25.4},{"s":"G","b":"d","d":65,"v":-24.6},{"s":"G","b":"d","d":75,"v":-23.8},
{"s":"G","b":"d","d":85,"v":-22.9},{"s":"G","b":"d","d":95,"v":-22.0},{"s":"G","b":"d","d":110,"v":-21.2},{"s":"G","b":"d","d":130,"v":-20.6},{"s":"G","b":"d","d":150,"v":-20.1},{"s":"G","b":"d","d":170,"v":-19.7},{"s":"G","b":"d","d":190,"v":-19.2},{"s":"G","b":"d","d":210,"v":-18.7},{"s":"G","b":"d","d":230,"v":-18.4},{"s":"G","b":"d","d":250,"v":-18.2},
{"s":"G","b":"d","d":262,"v":-18.9},{"s":"G","b":"d","d":272,"v":-18.5},{"s":"G","b":"d","d":290,"v":-17.8},{"s":"G","b":"d","d":310,"v":-17.5},{"s":"G","b":"d","d":330,"v":-17.3},{"s":"G","b":"d","d":350,"v":-17.1},{"s":"G","b":"d","d":370,"v":-16.9},{"s":"G","b":"d","d":390,"v":-16.7},{"s":"G","b":"d","d":410,"v":-16.6},{"s":"G","b":"d","d":430,"v":-16.5},
{"s":"G","b":"d","d":450,"v":-16.4},{"s":"G","b":"d","d":470,"v":-16.6},{"s":"G","b":"d","d":485,"v":-17.0},{"s":"G","b":"d","d":500,"v":-16.9},{"s":"G","b":"d","d":520,"v":-16.7},{"s":"G","b":"d","d":540,"v":-16.5},{"s":"G","b":"d","d":560,"v":-16.4},{"s":"G","b":"d","d":580,"v":-16.3},{"s":"G","b":"d","d":600,"v":-16.2},{"s":"G","b":"d","d":620,"v":-16.0},
{"s":"G","b":"d","d":640,"v":-15.9},{"s":"G","b":"d","d":660,"v":-15.8},{"s":"G","b":"d","d":680,"v":-15.6},{"s":"G","b":"d","d":700,"v":-15.5},{"s":"G","b":"d","d":720,"v":-15.4},{"s":"G","b":"d","d":740,"v":-15.4},{"s":"G","b":"d","d":760,"v":-15.3},{"s":"G","b":"d","d":780,"v":-15.2},{"s":"G","b":"d","d":800,"v":-15.2},{"s":"G","b":"d","d":820,"v":-15.0},
{"s":"G","b":"d","d":840,"v":-14.9},{"s":"G","b":"d","d":860,"v":-14.8},{"s":"G","b":"d","d":880,"v":-14.6},{"s":"G","b":"d","d":900,"v":-14.5},{"s":"G","b":"d","d":920,"v":-14.4},{"s":"G","b":"d","d":940,"v":-14.2},{"s":"G","b":"d","d":955,"v":-14.1},
{"s":"G","b":"u","d":0,"v":4.8},{"s":"G","b":"u","d":0.5,"v":12.0},{"s":"G","b":"u","d":3,"v":8.8},{"s":"G","b":"u","d":10,"v":9.2},{"s":"G","b":"u","d":20,"v":8.8},{"s":"G","b":"u","d":40,"v":9.0},{"s":"G","b":"u","d":60,"v":9.4},{"s":"G","b":"u","d":80,"v":9.3},{"s":"G","b":"u","d":100,"v":9.6},{"s":"G","b":"u","d":120,"v":9.7},
{"s":"G","b":"u","d":140,"v":9.9},{"s":"G","b":"u","d":160,"v":10.0},{"s":"G","b":"u","d":180,"v":10.1},{"s":"G","b":"u","d":200,"v":10.2},{"s":"G","b":"u","d":220,"v":10.3},{"s":"G","b":"u","d":240,"v":10.3},{"s":"G","b":"u","d":260,"v":10.4},{"s":"G","b":"u","d":280,"v":10.4},{"s":"G","b":"u","d":300,"v":10.4},{"s":"G","b":"u","d":320,"v":10.5},
{"s":"G","b":"u","d":340,"v":10.5},{"s":"G","b":"u","d":360,"v":10.6},{"s":"G","b":"u","d":380,"v":10.7},{"s":"G","b":"u","d":400,"v":10.8},{"s":"G","b":"u","d":420,"v":10.8},{"s":"G","b":"u","d":440,"v":10.9},{"s":"G","b":"u","d":460,"v":11.0},{"s":"G","b":"u","d":480,"v":11.1},{"s":"G","b":"u","d":500,"v":11.1},{"s":"G","b":"u","d":520,"v":11.2},
{"s":"G","b":"u","d":540,"v":11.3},{"s":"G","b":"u","d":560,"v":11.3},{"s":"G","b":"u","d":580,"v":11.4},{"s":"G","b":"u","d":600,"v":11.5},{"s":"G","b":"u","d":620,"v":11.5},{"s":"G","b":"u","d":640,"v":11.6},{"s":"G","b":"u","d":660,"v":11.7},{"s":"G","b":"u","d":680,"v":11.8},{"s":"G","b":"u","d":700,"v":11.9},{"s":"G","b":"u","d":720,"v":12.0},
{"s":"G","b":"u","d":740,"v":12.0},{"s":"G","b":"u","d":760,"v":12.1},{"s":"G","b":"u","d":780,"v":12.2},{"s":"G","b":"u","d":800,"v":12.2},{"s":"G","b":"u","d":820,"v":12.3},{"s":"G","b":"u","d":840,"v":12.3},{"s":"G","b":"u","d":860,"v":12.4},{"s":"G","b":"u","d":880,"v":12.4},{"s":"G","b":"u","d":900,"v":12.5},{"s":"G","b":"u","d":920,"v":12.5},
{"s":"G","b":"u","d":940,"v":12.6},{"s":"G","b":"u","d":960,"v":12.6},{"s":"G","b":"u","d":960.5,"v":-14.1}
]},
"title":{"text":["VBD bias = 0 cc","best fit VBD bias=38 implies: C_VBD=2559, volmax=51244 cc, max SM_CC=520, max MAX_BUOY=-335"],"orient":"bottom","anchor":"start","frame":"group","color":"#9c4a12","fontSize":10.5,"fontWeight":"bold","font":"Liberation Sans","offset":-10,"lineHeight":11.2},
"vconcat":[{
"width":468,"height":367,
"title":{"text":"SG130 OSU Offshore NH line, dive 248 started 22-Apr-2008 04:19:24","fontSize":12,"fontWeight":"bold","font":"Liberation Sans","color":"#000000","offset":4,"frame":"group","anchor":"middle"},
"layer":[
{"data":{"name":"lines"},
 "encoding":{
  "x":{"field":"v","type":"quantitative","title":"Vertical Velocity (cm/s)","scale":{"domain":[-28,18],"nice":false,"zero":false},"axis":{"values":[-28,-24,-20,-16,-12,-8,-4,0,4,8,12,16],"format":"d","grid":true,"tickSize":-5,"labelPadding":9.5,"titlePadding":8,"labelFlush":false,"labelOverlap":false}},
  "y":{"field":"d","type":"quantitative","title":"Depth (m)","scale":{"domain":[0,1000],"reverse":true,"nice":false,"zero":false},"axis":{"values":[0,100,200,300,400,500,600,700,800,900,1000],"format":"d","grid":true,"tickSize":-5,"labelPadding":8,"titlePadding":6,"labelFlush":false,"labelOverlap":false}},
  "color":{"field":"s","type":"nominal","title":null,"scale":{"domain":["P","B","D","A","G"],"range":["#0000e8","#00eeee","#f00000","#ff00ff","#22d822"]},"legend":{"labelExpr":"datum.label=='P'?'Based on Pressure Change':datum.label=='B'?'Based on Buoyancy and Pitch':datum.label=='D'?'Upwelling on Descent':datum.label=='A'?'Upwelling on Ascent':'38 cc biased model (CVBD=2559)'"}},
  "strokeDash":{"field":"s","type":"nominal","title":null,"scale":{"domain":["P","B","D","A","G"],"range":[[1,0],[1,0],[1,0],[1,0],[5,3]]},"legend":{"labelExpr":"datum.label=='P'?'Based on Pressure Change':datum.label=='B'?'Based on Buoyancy and Pitch':datum.label=='D'?'Upwelling on Descent':datum.label=='A'?'Upwelling on Ascent':'38 cc biased model (CVBD=2559)'"}},
  "detail":{"field":"b","type":"nominal"},
  "order":{"field":"d","type":"quantitative"}
 },
 "layer":[
  {"transform":[{"filter":"datum.s=='P'"}],"mark":{"type":"line","strokeWidth":1.5,"clip":true}},
  {"transform":[{"filter":"datum.s=='B'"}],"mark":{"type":"line","strokeWidth":1.1,"clip":true}},
  {"transform":[{"filter":"datum.s=='D'"}],"mark":{"type":"line","strokeWidth":1.5,"clip":true}},
  {"transform":[{"filter":"datum.s=='A'"}],"mark":{"type":"line","strokeWidth":1.5,"clip":true}},
  {"transform":[{"filter":"datum.s=='G'"}],"mark":{"type":"line","strokeWidth":1.3,"clip":true}}
 ]},
{"data":{"values":[{"rx":0}]},"mark":{"type":"rule","color":"#000000","strokeWidth":1},"encoding":{"x":{"field":"rx","type":"quantitative","title":"Vertical Velocity (cm/s)","scale":{"domain":[-28,18],"nice":false,"zero":false}}}},
{"data":{"values":[{"rx":-27.25}]},"mark":{"type":"rule","color":"#000000","strokeWidth":1,"strokeDash":[6,4]},"encoding":{"x":{"field":"rx","type":"quantitative","title":"Vertical Velocity (cm/s)","scale":{"domain":[-28,18],"nice":false,"zero":false}}}}
]
}],
"config":{
 "font":"Liberation Sans",
 "view":{"stroke":"#000000","strokeWidth":1},
 "axis":{"labelFont":"Liberation Sans","labelFontWeight":"bold","labelFontSize":12,"labelColor":"#000000","titleFont":"Liberation Sans","titleFontWeight":"bold","titleFontSize":12,"titleColor":"#000000","domainColor":"#000000","domainWidth":1,"tickColor":"#000000","tickWidth":1,"gridColor":"#555555","gridDash":[1,3],"gridWidth":1,"gridOpacity":1},
 "legend":{"orient":"none","legendX":263,"legendY":287,"fillColor":"#ffffff","strokeColor":"#000000","padding":6,"labelFont":"Liberation Sans","labelFontWeight":"bold","labelFontSize":10,"labelColor":"#000000","symbolType":"M-3.2,0H3.2","symbolSize":100,"symbolStrokeWidth":1.5,"symbolOffset":12,"labelOffset":14,"rowPadding":1,"labelLimit":300}
}
}
